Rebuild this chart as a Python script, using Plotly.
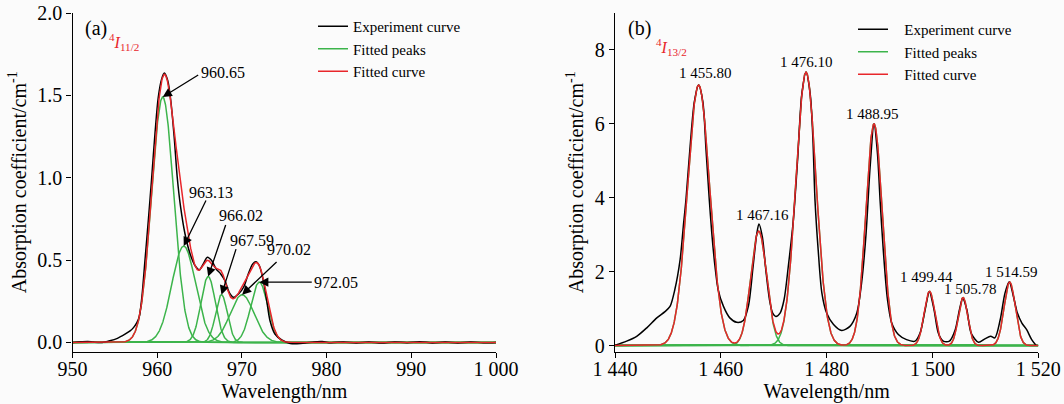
import numpy as np
import plotly.graph_objects as go

# ---------------- data: panel (a) 4I11/2 ----------------
a_centers = [960.65, 963.13, 966.02, 967.59, 970.02, 972.05]
a_heights = [1.49, 0.585, 0.40, 0.29, 0.29, 0.366]
a_sigmas = [1.3, 1.4, 0.85, 0.7, 1.4, 1.0]
a_labels = ["960.65", "963.13", "966.02", "967.59", "970.02", "972.05"]
a_exp = [(950, 0.0), (951, 0.004), (951.8, 0.006), (952.5, 0.002), (953.5, 0.0), (954.4, 0.01),
         (955.3, 0.025), (956.2, 0.05), (956.8, 0.07), (957.2, 0.09), (957.6, 0.12), (957.9, 0.16),
         (958.2, 0.28), (958.56, 0.50), (958.95, 0.74), (959.35, 1.00), (959.74, 1.27), (960.13, 1.49),
         (960.53, 1.60), (960.84, 1.635), (961.24, 1.59), (961.6, 1.47), (962.0, 1.25), (962.37, 1.00),
         (962.77, 0.82), (963.28, 0.66), (963.87, 0.54), (964.46, 0.467), (964.97, 0.44), (965.44, 0.477),
         (965.92, 0.517), (966.43, 0.497), (966.94, 0.447), (967.5, 0.416), (968.0, 0.375), (968.5, 0.304),
         (969.0, 0.274), (969.6, 0.294), (970.2, 0.335), (970.75, 0.416), (971.28, 0.477), (971.66, 0.49),
         (972.05, 0.467), (972.53, 0.375), (972.93, 0.254), (973.32, 0.132), (973.9, 0.051), (974.7, 0.015),
         (975.7, -0.006), (976.5, -0.008), (977.5, -0.004), (978.5, 0.003), (979.5, 0.005), (980.5, -0.002),
         (982, 0.003), (983.5, -0.003), (985, 0.002), (986.5, -0.004), (988, 0.003), (989.5, -0.002),
         (991, 0.004), (992.5, -0.003), (994, 0.002), (995.5, -0.003), (997, 0.003), (998.5, -0.002),
         (1000, 0.0)]
a_xticks = [950, 960, 970, 980, 990, 1000]
a_xticktext = ["950", "960", "970", "980", "990", "1 000"]
a_yticks = [0.0, 0.5, 1.0, 1.5, 2.0]
a_yticktext = ["0.0", "0.5", "1.0", "1.5", "2.0"]

# ---------------- data: panel (b) 4I13/2 ----------------
b_centers = [1455.80, 1467.16, 1476.10, 1488.95, 1499.44, 1505.78, 1514.59]
b_heights = [7.05, 3.1, 7.4, 6.0, 1.47, 1.3, 1.72]
b_sigmas = [2.1, 1.5, 1.9, 1.55, 1.0, 0.9, 1.05]
b_labels = ["1 455.80", "1 467.16", "1 476.10", "1 488.95", "1 499.44", "1 505.78", "1 514.59"]
b_exp = [(1440, 0.01), (1442.2, 0.12), (1444.1, 0.25), (1446.0, 0.48), (1447.9, 0.75), (1449.45, 0.92),
         (1450.4, 1.06), (1451.3, 1.51), (1452.3, 2.32), (1452.9, 3.21), (1453.4, 3.93), (1454.2, 5.4),
         (1455.0, 6.6), (1455.8, 7.05), (1456.6, 6.6), (1457.2, 5.3), (1457.83, 3.93), (1458.3, 3.03),
         (1458.9, 2.14), (1459.5, 1.51), (1460.5, 1.06), (1461.7, 0.75), (1463.0, 0.63), (1464.25, 0.68),
         (1465.2, 1.06), (1466.1, 2.14), (1466.8, 3.03), (1467.2, 3.29), (1467.85, 2.94), (1468.5, 2.05),
         (1469.2, 1.24), (1469.8, 0.88), (1470.4, 0.79), (1471.2, 0.88), (1471.95, 1.24), (1472.75, 2.14),
         (1473.7, 3.39), (1474.5, 5.0), (1475.3, 6.8), (1476.1, 7.4), (1476.9, 6.8), (1477.4, 5.6),
         (1477.8, 3.93), (1478.4, 2.59), (1479.1, 1.42), (1480.0, 0.88), (1481.3, 0.57), (1482.85, 0.41),
         (1484.4, 0.52), (1485.7, 0.88), (1486.6, 1.69), (1487.45, 3.03), (1488.2, 4.8), (1488.95, 6.0),
         (1489.6, 5.2), (1490.1, 3.93), (1490.7, 2.59), (1491.5, 1.24), (1492.3, 0.61), (1493.55, 0.30),
         (1495.1, 0.16), (1496.7, 0.12), (1497.65, 0.34), (1498.6, 0.97), (1499.4, 1.46), (1500.3, 0.97),
         (1501.1, 0.34), (1502.05, 0.12), (1503.2, 0.12), (1504.3, 0.43), (1505.1, 0.97), (1505.7, 1.28),
         (1506.5, 0.97), (1507.3, 0.34), (1508.7, 0.09), (1509.9, 0.18), (1511.0, 0.25), (1511.8, 0.21),
         (1512.8, 0.70), (1513.7, 1.42), (1514.5, 1.73), (1515.3, 1.33), (1516.05, 0.88), (1516.9, 0.61),
         (1517.8, 0.43), (1518.75, 0.16), (1519.6, 0.0)]
b_xticks = [1440, 1460, 1480, 1500, 1520]
b_xticktext = ["1 440", "1 460", "1 480", "1 500", "1 520"]
b_yticks = [0, 2, 4, 6, 8]
b_yticktext = ["0", "2", "4", "6", "8"]

# ---------------- styling ----------------
FONT = "Liberation Serif, Times New Roman, serif"
BLACK, GREEN, RED = "#000000", "#3cb44b", "#e8262b"
LW = 1.5


def gauss(x, c, h, s):
    return h * np.exp(-((x - c) ** 2) / (2 * s ** 2))


def peaks_traces(xmin, xmax, centers, heights, sigmas):
    xs = np.linspace(xmin, xmax, 1601)
    gx, gy = [], []
    total = np.zeros_like(xs)
    for c, h, s in zip(centers, heights, sigmas):
        g = gauss(xs, c, h, s)
        total += g
        gx += list(xs) + [None]
        gy += list(g) + [None]
    return xs, total, gx, gy


fig = go.Figure()

for (xmin, xmax, cen, hei, sig, exp, xa, ya, leg, pre, pre_exp) in [
    (950, 1000, a_centers, a_heights, a_sigmas, a_exp, "x", "y", "legend", "", ""),
    (1440, 1520, b_centers, b_heights, b_sigmas, b_exp, "x2", "y2", "legend2",
     "\u00a0\u00a0\u00a0", "\u00a0\u00a0\u00a0"),
]:
    xs, total, gx, gy = peaks_traces(xmin, xmax, cen, hei, sig)
    ex = [p[0] for p in exp]
    ey = [p[1] for p in exp]
    fig.add_trace(go.Scatter(x=gx, y=gy, mode="lines", line=dict(color=GREEN, width=LW),
                             name=pre + "Fitted peaks", xaxis=xa, yaxis=ya, legend=leg, legendrank=2))
    fig.add_trace(go.Scatter(x=ex, y=ey, mode="lines", line=dict(color=BLACK, width=LW, shape="spline", smoothing=0.8),
                             name=pre_exp + "Experiment curve", xaxis=xa, yaxis=ya, legend=leg, legendrank=1))
    fig.add_trace(go.Scatter(x=xs, y=total, mode="lines", line=dict(color=RED, width=LW),
                             name=pre + "Fitted curve", xaxis=xa, yaxis=ya, legend=leg, legendrank=3))

annotations = []
# panel (a): arrows and labels (pixel offsets relative to peak tops)
a_arrow_off = [(37, -23), (23, -47), (18, -53), (15, -47), (36, -34), (54, 0)]
a_label_off = [(60, 25), (27, 54), (33, 61), (31, 54), (47, 45), (77, 0)]
for c, h, lab, (ax, ay), (dx, dy) in zip(a_centers, a_heights, a_labels, a_arrow_off, a_label_off):
    annotations.append(dict(x=c, y=h, xref="x", yref="y", text="", showarrow=True, ax=ax, ay=ay,
                            arrowhead=2, arrowsize=1.4, arrowwidth=1.3, arrowcolor=BLACK, standoff=0))
    annotations.append(dict(x=c, y=h, xref="x", yref="y", text=lab, showarrow=False, xshift=dx, yshift=dy,
                            font=dict(family=FONT, size=16, color=BLACK)))
# panel (b): labels above peaks
b_label_off = [(7, 8), (4, 12), (0, 6), (-2, 6), (-3, 10), (7, 5), (2, 6)]
for c, h, lab, (dx, dy) in zip(b_centers, b_heights, b_labels, b_label_off):
    annotations.append(dict(x=c, y=h, xref="x2", yref="y2", text=lab, showarrow=False, xshift=dx, yshift=dy - 6,
                            yanchor="bottom", font=dict(family=FONT, size=15, color=BLACK)))

W, H = 1064, 404


def px(xp, yp):
    return xp / W, 1 - yp / H


for txt, (xp, yp), size, col in [
    ("(a)", (96, 28), 20, BLACK),
    ("<sup>4</sup><i>I</i><sub>11/2</sub>", (124, 42), 16, RED),
    ("(b)", (639, 28), 20, BLACK),
    ("<sup>4</sup><i>I</i><sub>13/2</sub>", (671, 47), 16, RED),
]:
    xx, yy = px(xp, yp)
    annotations.append(dict(x=xx, y=yy, xref="paper", yref="paper", text=txt, showarrow=False,
                            xanchor="center", yanchor="middle", font=dict(family=FONT, size=size, color=col)))

axis_common = dict(showline=True, linecolor=BLACK, linewidth=1.3, ticks="outside", ticklen=5, tickwidth=1.3,
                   tickcolor=BLACK, showgrid=False, zeroline=False, mirror=False, automargin=False,
                   tickfont=dict(family=FONT, size=20, color=BLACK))
title_font = dict(family=FONT, size=20, color=BLACK)
ydom = [1 - 351.5 / H, 1 - 13 / H]

fig.update_layout(
    width=W, height=H, margin=dict(l=0, r=0, t=0, b=0, autoexpand=False),
    paper_bgcolor="#fbfbfb", plot_bgcolor="#fbfbfb",
    xaxis=dict(domain=[72.5 / W, 496 / W], range=[950, 1000], tickvals=a_xticks, ticktext=a_xticktext,
               anchor="y", ticklabelstandoff=-6, title=dict(text="Wavelength/nm", font=title_font, standoff=2),
               **axis_common),
    yaxis=dict(domain=ydom, range=[-0.055, 2.0], tickvals=a_yticks, ticktext=a_yticktext, anchor="x",
               title=dict(text="Absorption coefficient/cm<sup>-1</sup>", font=title_font, standoff=5),
               **axis_common),
    xaxis2=dict(domain=[615 / W, 1038.3 / W], range=[1440, 1520], tickvals=b_xticks, ticktext=b_xticktext,
                anchor="y2", ticklabelstandoff=-6, title=dict(text="Wavelength/nm", font=title_font, standoff=2),
                **axis_common),
    yaxis2=dict(domain=ydom, range=[-0.16, 9], tickvals=b_yticks, ticktext=b_yticktext, anchor="x2",
                title=dict(text="Absorption coefficient/cm<sup>-1</sup>", font=title_font, standoff=5),
                **axis_common),
    legend=dict(x=313 / W, y=1 - 10 / H, xanchor="left", yanchor="top", bgcolor="rgba(0,0,0,0)",
                font=dict(family=FONT, size=15, color=BLACK), itemwidth=30, tracegroupgap=0),
    legend2=dict(x=853 / W, y=1 - 13 / H, xanchor="left", yanchor="top", bgcolor="rgba(0,0,0,0)",
                 font=dict(family=FONT, size=15, color=BLACK), itemwidth=30, tracegroupgap=0),
    annotations=annotations,
    showlegend=True,
)

fig.write_html("out.html")
